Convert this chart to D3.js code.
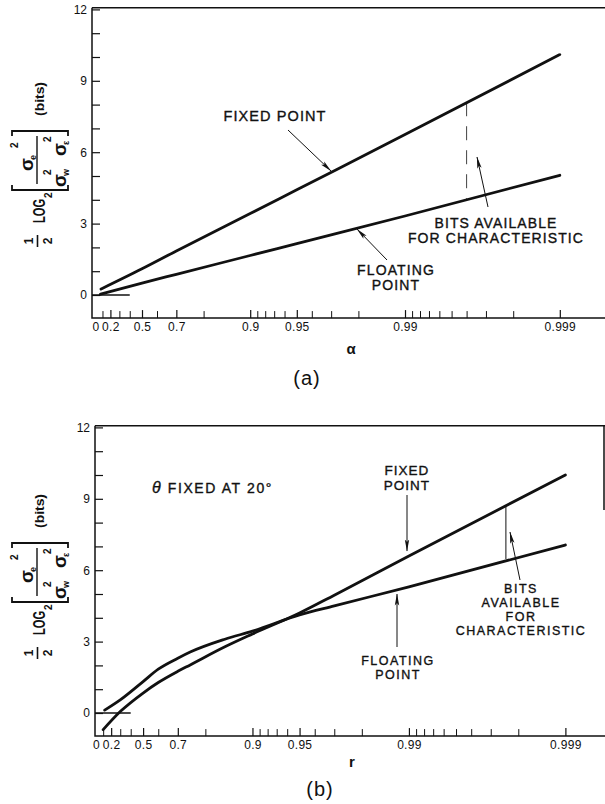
<!DOCTYPE html>
<html>
<head>
<meta charset="utf-8">
<script src="https://cdn.jsdelivr.net/npm/d3@7"></script>
<style>
  body { margin: 0; background: #fff; }
  svg { display: block; }
  text { font-family: "Liberation Sans", Arial, sans-serif; fill: #111; }
</style>
</head>
<body>
<script>
// x axis ticks (values of a / r)
const tickValuesMajor = [0, 0.2, 0.5, 0.7, 0.9, 0.95, 0.99, 0.999];
const tickLabels = ['0', '0.2', '0.5', '0.7', '0.9', '0.95', '0.99', '0.999'];
const tickValuesMinor = [0.1, 0.3, 0.4, 0.6, 0.8, 0.91, 0.92, 0.93, 0.94, 0.96, 0.97, 0.98,
  0.991, 0.992, 0.993, 0.994, 0.995, 0.996, 0.997, 0.998];
const yTickValues = [0, 1, 2, 3, 4, 5, 6, 7, 8, 9, 10, 11, 12];

// panel (a)
const aFixedX = [0.08, 0.5, 0.7, 0.9, 0.95, 0.99, 0.999];
const aFixedY = [0.25, 1.1, 1.85, 3.42, 4.42, 6.74, 10.1];
const aFloatX = [0.07, 0.5, 0.7, 0.9, 0.95, 0.99, 0.999];
const aFloatY = [0.03, 0.5, 0.87, 1.66, 2.16, 3.32, 5.03];
const aBits = { at: 0.996, top: 8.1, bottom: 4.0 };

// panel (b)
const bFixedX = [0.1, 0.3, 0.5, 0.6, 0.7, 0.75, 0.85, 0.9, 0.95, 0.97, 0.99, 0.999];
const bFixedY = [-0.7, 0.06, 0.84, 1.28, 1.75, 2.02, 2.78, 3.32, 4.2, 4.95, 6.6, 10.0];
const bFloatX = [0.12, 0.3, 0.5, 0.6, 0.7, 0.75, 0.85, 0.9, 0.95, 0.97, 0.99, 0.999];
const bFloatY = [0.12, 0.55, 1.32, 1.84, 2.3, 2.56, 3.1, 3.44, 4.12, 4.5, 5.3, 7.06];
const bBits = { at: 0.9976, top: 8.66, bottom: 6.47 };

const zeroLineEnd = 0.4; // short reference line at 0 bits

const ink = '#111';
const toU = (a) => -Math.log2(1 - a); // axis is linear in log2(1/(1-a))

const svg = d3.select('body').append('svg')
  .attr('width', 605)
  .attr('height', 804);

svg.append('defs').append('marker')
  .attr('id', 'head')
  .attr('markerUnits', 'userSpaceOnUse')
  .attr('viewBox', '0 0 12 6')
  .attr('markerWidth', 12)
  .attr('markerHeight', 6)
  .attr('refX', 11.5)
  .attr('refY', 3)
  .attr('orient', 'auto')
  .append('path')
  .attr('d', 'M0,0.8 L12,3 L0,5.2 L2.5,3 Z')
  .attr('fill', ink);

function sigma(g, x, y, sub, sx, sy) {
  g.append('text').attr('x', x).attr('y', y).attr('font-size', 19).text('σ');
  g.append('text').attr('x', x + 11).attr('y', y + 3).attr('font-size', 9).text(sub);
  g.append('text').attr('x', sx).attr('y', sy).attr('font-size', 10).text('2');
}

// rotated y label, B = screen y of the bracket's lower end
function yLabel(g, cx, B) {
  const t = g.append('g')
    .attr('transform', `translate(${cx},${B}) rotate(-90)`)
    .attr('font-weight', 'bold');

  t.append('text').attr('x', -51).attr('y', -7).attr('text-anchor', 'middle').attr('font-size', 12).text('1');
  t.append('line').attr('x1', -57).attr('x2', -45).attr('y1', -2.5).attr('y2', -2.5)
    .attr('stroke', ink).attr('stroke-width', 1.6);
  t.append('text').attr('x', -51).attr('y', 12).attr('text-anchor', 'middle').attr('font-size', 12).text('2');

  t.append('text').attr('x', -33).attr('y', 5).attr('font-size', 16)
    .attr('textLength', 24).attr('lengthAdjust', 'spacingAndGlyphs').text('LOG');
  t.append('text').attr('x', -8).attr('y', 12).attr('font-size', 10).text('2');

  t.append('path')
    .attr('d', 'M5,-28 H0 V28 H5 M54,-28 H59 V28 H54')
    .attr('fill', 'none').attr('stroke', ink).attr('stroke-width', 1.8);
  t.append('line').attr('x1', 6).attr('x2', 54).attr('y1', -3).attr('y2', -3)
    .attr('stroke', ink).attr('stroke-width', 1.4);

  sigma(t, 19, -7, 'e', 42, -22);
  sigma(t, 3, 26, 'w', 15, 11);
  sigma(t, 34, 26, 'ε', 48, 11);

  t.append('text').attr('x', 91).attr('y', 4).attr('text-anchor', 'middle').attr('font-size', 12)
    .attr('textLength', 34).attr('lengthAdjust', 'spacingAndGlyphs').text('(bits)');
}

function note(g, x, y, lines, size, spacing, lead) {
  lines.forEach((s, i) => {
    g.append('text')
      .attr('x', x).attr('y', y + i * lead)
      .attr('text-anchor', 'middle')
      .attr('font-size', size)
      .attr('letter-spacing', spacing)
      .attr('stroke', ink).attr('stroke-width', 0.35)
      .text(s);
  });
}

function arrow(g, x1, y1, x2, y2) {
  g.append('line')
    .attr('x1', x1).attr('y1', y1).attr('x2', x2).attr('y2', y2)
    .attr('stroke', ink).attr('stroke-width', 1)
    .attr('marker-end', 'url(#head)');
}

function drawPanel(p) {
  const g = svg.append('g');

  const x = d3.scaleLinear().domain([0, 10]).range([p.zeroX, p.zeroX + 10 * p.kx]);
  const y = d3.scaleLinear().domain([0, 12]).range([p.y0, p.y12]);
  const yBottom = y(-0.97), yTop = y(12.07);

  // frame
  let frame = `M${p.left},${yTop} V${yBottom} H605 M${p.left},${yTop} H605`;
  if (p.rightTo) frame += ` M604,${yTop} V${p.rightTo}`;
  g.append('path').attr('d', frame).attr('fill', 'none')
    .attr('stroke', ink).attr('stroke-width', 1.5);

  // y axis (ticks inward)
  g.append('g')
    .attr('transform', `translate(${p.left},0)`)
    .call(d3.axisLeft(y).tickValues(yTickValues).tickSize(-8).tickPadding(5)
      .tickFormat((d) => (d % 3 === 0 ? d : '')))
    .call((a) => a.select('.domain').remove())
    .call((a) => a.selectAll('line').attr('stroke', ink).attr('stroke-width', 1.2))
    .call((a) => a.selectAll('text').attr('font-size', 12).attr('font-family', '"Liberation Sans", Arial, sans-serif').attr('fill', ink));

  // x axis, major and minor ticks
  const xAxis = g.append('g')
    .attr('transform', `translate(0,${yBottom})`)
    .call(d3.axisBottom(x).tickValues(tickValuesMajor.map(toU)).tickSize(-8).tickPadding(4)
      .tickFormat((d, i) => tickLabels[i]))
    .call((a) => a.select('.domain').remove())
    .call((a) => a.selectAll('line').attr('stroke', ink).attr('stroke-width', 1.2))
    .call((a) => a.selectAll('text').attr('font-size', 12).attr('letter-spacing', 0.3)
      .attr('font-family', '"Liberation Sans", Arial, sans-serif').attr('fill', ink));
  xAxis.selectAll('.tick').filter((d) => d === 0).select('line').remove();

  g.append('g')
    .attr('transform', `translate(0,${yBottom})`)
    .call(d3.axisBottom(x).tickValues(tickValuesMinor.map(toU)).tickSize(-7).tickFormat(''))
    .call((a) => a.select('.domain').remove())
    .call((a) => a.selectAll('line').attr('stroke', ink).attr('stroke-width', 1));

  // short zero reference line
  g.append('line')
    .attr('x1', p.left).attr('x2', x(toU(zeroLineEnd)))
    .attr('y1', y(0)).attr('y2', y(0))
    .attr('stroke', ink).attr('stroke-width', 1.5);

  const line = d3.line()
    .x((d) => x(toU(d[0])))
    .y((d) => y(d[1]))
    .curve(d3.curveMonotoneX);

  [[p.fixedX, p.fixedY], [p.floatX, p.floatY]].forEach(([xs, ys]) => {
    g.append('path')
      .attr('d', line(d3.zip(xs, ys)))
      .attr('fill', 'none')
      .attr('stroke', ink)
      .attr('stroke-width', 2.8)
      .attr('stroke-linecap', 'round');
  });

  // bits available marker
  g.append('line')
    .attr('x1', x(toU(p.bits.at))).attr('x2', x(toU(p.bits.at)))
    .attr('y1', y(p.bits.top)).attr('y2', y(p.bits.bottom))
    .attr('stroke', ink).attr('stroke-width', p.bitsWidth)
    .attr('stroke-dasharray', p.bitsDash);

  yLabel(g, 40, p.bracketB);

  g.append('text')
    .attr('x', p.axisLabel[0]).attr('y', p.axisLabel[1])
    .attr('text-anchor', 'middle').attr('font-size', 15).attr('font-weight', 'bold')
    .text(p.axisName);

  g.append('text')
    .attr('x', p.caption[0]).attr('y', p.caption[1])
    .attr('text-anchor', 'middle')
    .attr('font-family', '"DejaVu Serif", "Liberation Serif", serif')
    .attr('font-size', 20).attr('letter-spacing', 1)
    .text(p.captionText);

  return g;
}

// (a)
const ga = drawPanel({
  left: 92, zeroX: 95.4, kx: 46.6, y0: 295, y12: 9.4,
  fixedX: aFixedX, fixedY: aFixedY, floatX: aFloatX, floatY: aFloatY,
  bits: aBits, bitsWidth: 0.8, bitsDash: '14,10',
  bracketB: 190, axisName: 'α', axisLabel: [351, 354],
  caption: [307, 385], captionText: '(a)'
});
note(ga, 275, 121, ['FIXED POINT'], 14.5, 1.1, 15);
arrow(ga, 288, 130, 331, 171);
note(ga, 496, 228, ['BITS AVAILABLE', 'FOR CHARACTERISTIC'], 14, 1.1, 15);
arrow(ga, 488, 207, 477, 157);
note(ga, 396, 275, ['FLOATING', 'POINT'], 14, 1.1, 15);
arrow(ga, 387, 260, 357, 229);

// (b)
const gb = drawPanel({
  left: 95, zeroX: 96, kx: 47.1, y0: 713, y12: 427.4, rightTo: 510,
  fixedX: bFixedX, fixedY: bFixedY, floatX: bFloatX, floatY: bFloatY,
  bits: bBits, bitsWidth: 1, bitsDash: null,
  bracketB: 602, axisName: 'r', axisLabel: [352, 767],
  caption: [320, 796], captionText: '(b)'
});
const th = gb.append('text')
  .attr('x', 152).attr('y', 493)
  .attr('font-size', 14).attr('letter-spacing', 1.6)
  .attr('stroke', ink).attr('stroke-width', 0.35);
th.append('tspan').attr('font-style', 'italic').attr('font-size', 16).text('θ');
th.append('tspan').text(' FIXED AT 20°');
note(gb, 407, 475, ['FIXED', 'POINT'], 13.5, 1, 15);
arrow(gb, 407, 495, 407, 551);
note(gb, 521, 593, ['BITS', 'AVAILABLE', 'FOR', 'CHARACTERISTIC'], 12.5, 1.5, 14);
arrow(gb, 520, 580, 510, 532);
note(gb, 398, 665, ['FLOATING', 'POINT'], 12.5, 1.5, 14);
arrow(gb, 397, 647, 397, 594);
</script>
</body>
</html>
